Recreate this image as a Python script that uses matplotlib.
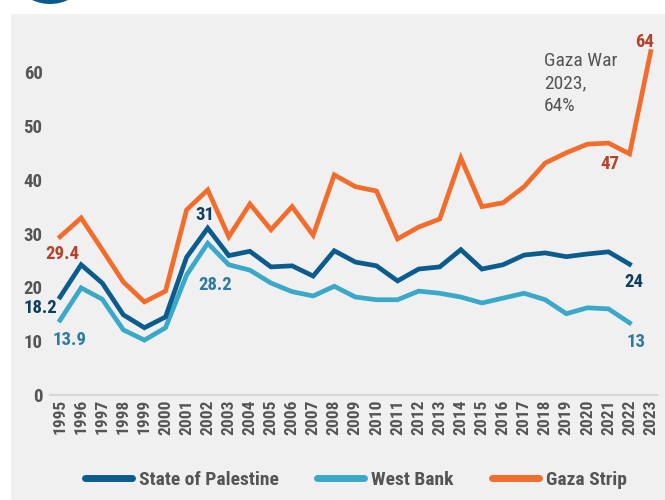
import matplotlib
matplotlib.use("Agg")
import matplotlib.pyplot as plt
from matplotlib.patches import Rectangle, Ellipse
from matplotlib.lines import Line2D

plt.rcParams['font.family'] = ['Roboto Condensed', 'Liberation Sans Narrow', 'Roboto', 'DejaVu Sans']

years = list(range(1995, 2024))
palestine = [18.2, 24.2, 20.8, 14.9, 12.5, 14.5, 25.6, 31.0, 25.9, 26.7, 23.8, 24.0, 22.1, 26.8,
             24.7, 24.0, 21.2, 23.4, 23.8, 27.0, 23.4, 24.2, 26.0, 26.4, 25.7, 26.2, 26.6, 24.3, None]
west_bank = [13.9, 19.9, 17.8, 12.1, 10.2, 12.5, 22.3, 28.2, 24.2, 23.2, 20.8, 19.2, 18.4, 20.2,
             18.2, 17.7, 17.7, 19.3, 18.9, 18.2, 17.1, 18.0, 18.9, 17.7, 15.1, 16.2, 16.0, 13.4, None]
gaza = [29.4, 32.9, 27.0, 21.0, 17.3, 19.3, 34.4, 38.1, 29.4, 35.5, 30.7, 35.0, 29.7, 40.9,
        38.7, 37.9, 29.0, 31.2, 32.7, 44.0, 35.0, 35.7, 38.7, 43.1, 45.0, 46.6, 46.8, 44.8, 63.8]
series_names = ["State of Palestine", "West Bank", "Gaza Strip"]
y_ticks = [0, 10, 20, 30, 40, 50, 60]

C_PAL = "#0b5c8e"
C_WB = "#3aa9c9"
C_GAZA = "#f26d2b"
LBL_PAL = "#0d3d60"
LBL_WB = "#2e7aa3"
LBL_GAZA = "#b5432a"
GRAY = "#555555"

W, H = 665, 500
fig = plt.figure(figsize=(6.65, 5.0), dpi=100, facecolor="white")

# background panel and decorative circle
fig.patches.append(Rectangle((11 / W, 0), 1 - 11 / W, 1 - 14 / H, transform=fig.transFigure,
                             facecolor="#f0f0f0", edgecolor="none", zorder=-10))
fig.patches.append(Ellipse((50 / W, 1 + 38.5 / H), 85 / W, 85 / H, transform=fig.transFigure,
                           facecolor="#0b5a8c", edgecolor="none", zorder=-9))

ax = fig.add_axes([49.5 / W, 1 - 395 / H, (657 - 49.5) / W, (395 - 29) / H])
ax.set_facecolor("none")
ax.set_zorder(2)

def clean(vals):
    xs = [y for y, v in zip(years, vals) if v is not None]
    vs = [v for v in vals if v is not None]
    return xs, vs

lw = 3.4
x, v = clean(gaza)
ax.plot(x, v, color=C_GAZA, lw=lw, solid_joinstyle="miter", zorder=3)
x, v = clean(west_bank)
ax.plot(x, v, color=C_WB, lw=lw, solid_joinstyle="miter", zorder=4)
x, v = clean(palestine)
ax.plot(x, v, color=C_PAL, lw=lw, solid_joinstyle="miter", zorder=5)

ax.set_xlim(1994.5, 2023.3)
ax.set_ylim(0, 68)
for s in ["top", "right", "left"]:
    ax.spines[s].set_visible(False)
ax.spines["bottom"].set_color("#d6d6d6")
ax.spines["bottom"].set_linewidth(1.5)

ax.set_yticks(y_ticks)
ax.set_yticklabels([str(t) for t in y_ticks], fontsize=13.5, fontweight="bold", color=GRAY)
ax.tick_params(axis="y", length=0, pad=5)
ax.set_xticks(years)
ax.set_xticklabels([str(y) for y in years], rotation=90, fontsize=12.5, fontweight="bold", color=GRAY)
ax.tick_params(axis="x", length=0, pad=3)

def label(txt, xv, yv, dx, dy, color):
    ax.annotate(txt, xy=(xv, yv), xytext=(dx * 0.72, dy * 0.72), textcoords="offset points",
                ha="center", va="center", fontsize=13.5, fontweight="bold", color=color, zorder=6)

label("29.4", 1995, gaza[0], 2, -17, LBL_GAZA)
label("18.2", 1995, palestine[0], -20, -11, LBL_PAL)
label("13.9", 1995, west_bank[0], 10, -20, LBL_WB)
label("31", 2002, palestine[7], -3, 13, LBL_PAL)
label("28.2", 2002, west_bank[7], 8, -42, LBL_WB)
label("24", 2022, palestine[27], 4, -18, LBL_PAL)
label("13", 2022, west_bank[27], 6, -19, LBL_WB)
label("47", 2021, gaza[26], 1, -21, LBL_GAZA)
label("64", 2023, gaza[28], -6, 10, LBL_GAZA)

ax.text(2017.94, 63.8, "Gaza War\n2023,\n64%", ha="left", va="top", fontsize=14,
        color=GRAY, linespacing=1.32, zorder=6)

handles = [Line2D([], [], color=c, lw=5, solid_capstyle="round") for c in (C_PAL, C_WB, C_GAZA)]
leg = fig.legend(handles, series_names, loc="center", bbox_to_anchor=(0.535, 1 - 480 / H),
                 ncol=3, frameon=False, fontsize=14, handlelength=2.4, columnspacing=2.0,
                 handletextpad=0.35)
for t in leg.get_texts():
    t.set_color(GRAY)
    t.set_fontweight("bold")

fig.savefig("out.png", dpi=100, facecolor="white")
